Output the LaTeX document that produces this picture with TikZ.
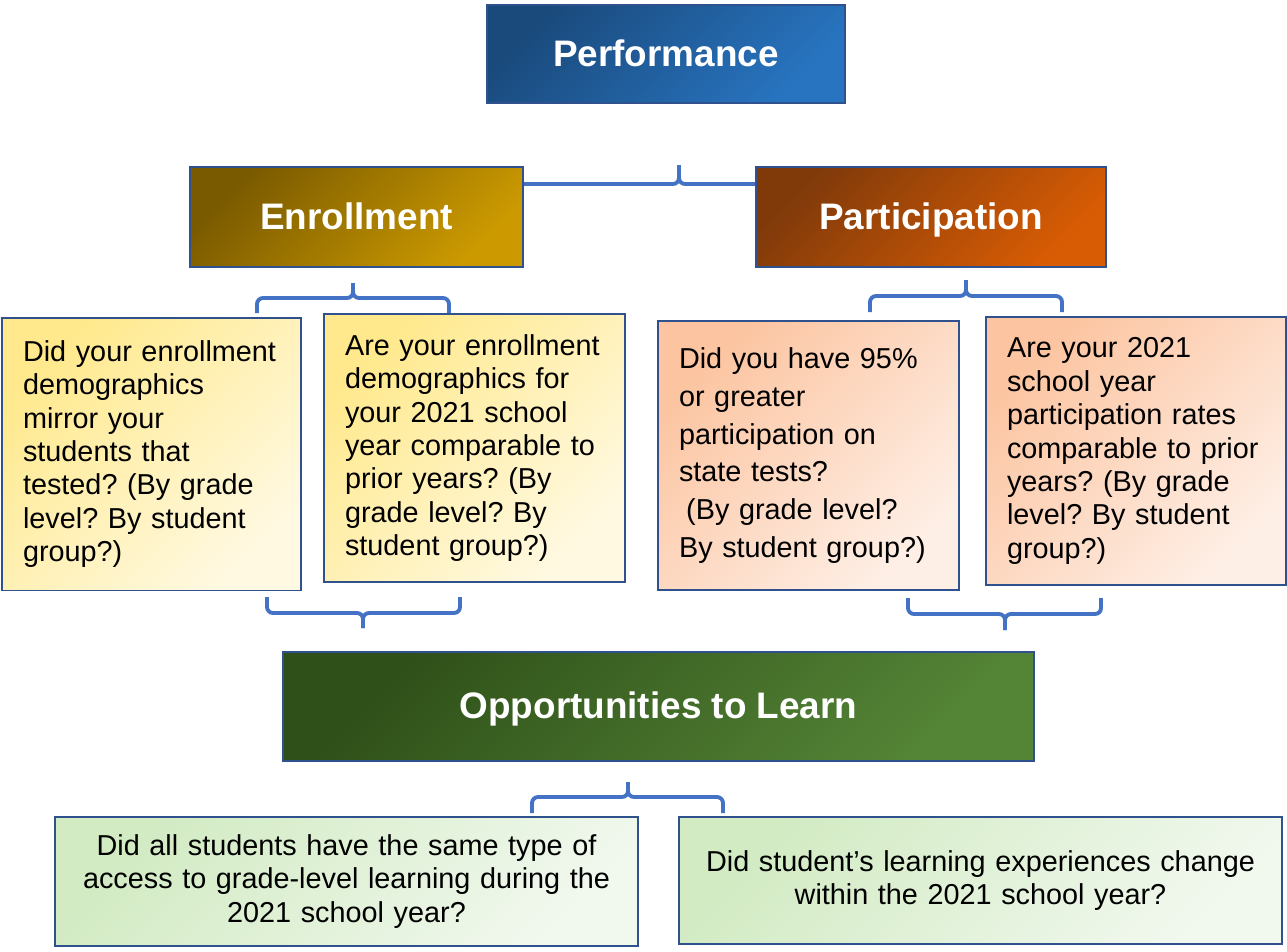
\documentclass[tikz,border=0pt]{standalone}
\usepackage{fontspec}
\setmainfont{Liberation Sans}
\usepackage{xcolor}
\usepackage{tikz}
\usetikzlibrary{positioning, shapes}
\frenchspacing

\definecolor{boxline}{HTML}{2F528F}
\definecolor{bracecol}{HTML}{4472C4}
\definecolor{perfA}{HTML}{1A4A7C}
\definecolor{perfB}{HTML}{2874C0}
\definecolor{enrA}{HTML}{7A5A00}
\definecolor{enrB}{HTML}{CC9A00}
\definecolor{partA}{HTML}{803A0A}
\definecolor{partB}{HTML}{D85C04}
\definecolor{oppA}{HTML}{2F5019}
\definecolor{oppB}{HTML}{548436}
\definecolor{yelA}{HTML}{FFE98C}
\definecolor{yelB}{HTML}{FFF9E2}
\definecolor{peachA}{HTML}{FCC4A0}
\definecolor{peachB}{HTML}{FEEFE6}
\definecolor{greenA}{HTML}{D2EBC3}
\definecolor{greenB}{HTML}{F1F8EE}

\begin{document}
\begin{tikzpicture}[
    x=0.02cm, y=-0.02cm,
    box/.style={rectangle, draw=boxline, line width=1.1pt, inner sep=0pt},
    header/.style={box, text=white, text height=15pt, text depth=1pt,
                   font=\fontsize{21}{25}\selectfont\bfseries},
    question/.style={box, inner xsep=0.42cm, align=left, font=\fontsize{16.4}{19}\selectfont},
    answer/.style={box, inner xsep=0.42cm, align=center, font=\fontsize{16.4}{19}\selectfont},
    brace/.style={draw=bracecol, line width=2.2pt, rounded corners=0.12cm}
]

\useasboundingbox (0,0) rectangle (1287,951);

% Top level
\node[header, minimum width=7.16cm, minimum height=1.96cm,
      top color=perfA, bottom color=perfB, shading angle=45] (perf) at (666,54) {Performance};

% Second level
\node[header, minimum width=6.66cm, minimum height=2cm,
      top color=enrA, bottom color=enrB, shading angle=45] (enr) at (356.5,217) {Enrollment};
\node[header, minimum width=7cm, minimum height=2cm,
      top color=partA, bottom color=partB, shading angle=45] (part) at (931,217) {Participation};

% Questions
\node[question, text width=5.14cm, minimum height=5.46cm,
      top color=yelA, bottom color=yelB, shading angle=45] (enrq1) at (151.5,454)
    {Did your enrollment\\ demographics\\ mirror your\\ students that\\ tested? (By grade\\ level? By student\\ group?)};
\node[question, text width=5.18cm, minimum height=5.36cm,
      top color=yelA, bottom color=yelB, shading angle=45] (enrq2) at (474.5,448)
    {Are your enrollment\\ demographics for\\ your 2021 school\\ year comparable to\\ prior years? (By\\ grade level? By\\ student group?)};
\node[question, text width=5.18cm, minimum height=5.38cm, font=\fontsize{16.4}{21.5}\selectfont,
      top color=peachA, bottom color=peachB, shading angle=45] (partq1) at (808.5,455.5)
    {Did you have 95\%\\ or greater\\ participation on\\ state tests?\\ \hspace*{0.25em}(By grade level?\\ By student group?)};
\node[question, text width=5.16cm, minimum height=5.36cm,
      top color=peachA, bottom color=peachB, shading angle=45] (partq2) at (1136,451)
    {Are your 2021\\ school year\\ participation rates\\ comparable to prior\\ years? (By grade\\ level? By student\\ group?)};

% Opportunities
\node[header, minimum width=15.02cm, minimum height=2.18cm,
      top color=oppA, bottom color=oppB, shading angle=45] (opp) at (658.5,706.5) {Opportunities to Learn};
\node[answer, text width=10.82cm, minimum height=2.58cm,
      top color=greenA, bottom color=greenB, shading angle=45] (oppq1) at (346.5,881.5)
    {Did all students have the same type of\\ access to grade-level learning during the\\ 2021 school year?};
\node[answer, text width=11.22cm, minimum height=2.54cm,
      top color=greenA, bottom color=greenB, shading angle=45] (oppq2) at (980.5,880.5)
    {Did student’s learning experiences change\\ within the 2021 school year?};

% Braces
\draw[brace] (enr.east |- 0,184) -- (679,184) -- (679,165);
\draw[brace] (679,165) -- (679,184) -- (part.west |- 0,184);

\draw[brace] (257,313) |- (353,298) -- (353,283);
\draw[brace] (353,283) -- (353,298) -| (449,313);
\draw[brace] (267,597) |- (363,613) -- (363,628);
\draw[brace] (363,628) -- (363,613) -| (460,597);

\draw[brace] (870,312) |- (966,296) -- (966,280);
\draw[brace] (966,280) -- (966,296) -| (1062,312);
\draw[brace] (908,598) |- (1005,614) -- (1005,630);
\draw[brace] (1005,630) -- (1005,614) -| (1101,598);

\draw[brace] (532,813) |- (628,797) -- (628,782);
\draw[brace] (628,782) -- (628,797) -| (723,813);

\end{tikzpicture}
\end{document}
